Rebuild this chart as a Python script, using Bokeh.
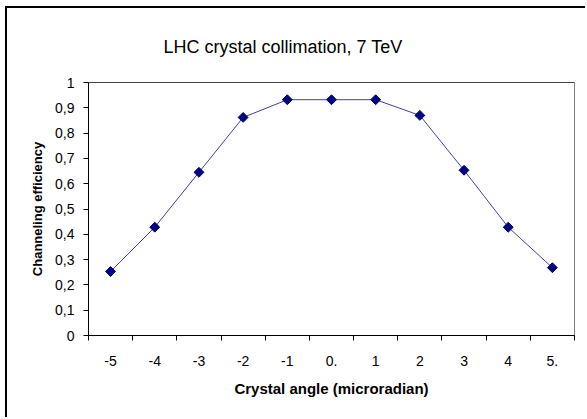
import math
from bokeh.plotting import figure
from bokeh.models import FixedTicker, Span, Range1d
from bokeh.embed import file_html
from bokeh.resources import INLINE

# Data
angles = [-5, -4, -3, -2, -1, 0, 1, 2, 3, 4, 5]
angle_labels = ["-5", "-4", "-3", "-2", "-1", "0.", "1", "2", "3", "4", "5."]
efficiency = [0.253, 0.428, 0.645, 0.862, 0.932, 0.932, 0.932, 0.870, 0.653, 0.428, 0.268]
y_tick_values = [0.0, 0.1, 0.2, 0.3, 0.4, 0.5, 0.6, 0.7, 0.8, 0.9, 1.0]
y_tick_labels = ["0", "0,1", "0,2", "0,3", "0,4", "0,5", "0,6", "0,7", "0,8", "0,9", "1"]
x_boundaries = [a - 0.5 for a in angles] + [angles[-1] + 0.5]

FONT = "Liberation Sans"

p = figure(width=580, height=411, output_backend="svg", toolbar_location=None,
           x_range=Range1d(angles[0] - 0.5, angles[-1] + 0.5),
           y_range=Range1d(0, 1),
           title="LHC crystal collimation, 7 TeV",
           min_border_left=81, min_border_right=13, min_border_top=74, min_border_bottom=84)
p.styles = {"border-top": "2px solid black", "border-left": "2px solid black",
            "margin-left": "5px", "margin-top": "6px"}

p.title.align = "left"
p.title.offset = 75
p.title.text_font = FONT
p.title.text_font_size = "18px"
p.title.text_font_style = "normal"
p.title.text_color = "black"
p.title.standoff = 52

p.grid.visible = False
p.outline_line_color = "#808080"
p.outline_line_width = 1
p.background_fill_color = "white"
p.border_fill_color = "white"

# X axis
xa = p.xaxis[0]
xa.ticker = FixedTicker(ticks=angles, minor_ticks=x_boundaries)
xa.major_label_overrides = {a: l for a, l in zip(angles, angle_labels)}
xa.major_tick_out = 0
xa.major_tick_in = 0
xa.minor_tick_out = 5
xa.minor_tick_in = 0
xa.minor_tick_line_color = "black"
xa.axis_line_color = "black"
xa.major_label_text_font = FONT
xa.major_label_text_font_size = "14px"
xa.major_label_text_color = "black"
xa.major_label_standoff = 15
xa.axis_label = "Crystal angle (microradian)"
xa.axis_label_text_font = FONT
xa.axis_label_text_font_size = "15px"
xa.axis_label_text_font_style = "bold"
xa.axis_label_text_color = "black"
xa.axis_label_standoff = 11

# Y axis
ya = p.yaxis[0]
ya.ticker = FixedTicker(ticks=y_tick_values, minor_ticks=[])
ya.major_label_overrides = {v: l for v, l in zip(y_tick_values, y_tick_labels)}
ya.major_tick_out = 5
ya.major_tick_in = 0
ya.major_tick_line_color = "black"
ya.axis_line_color = "black"
ya.major_label_text_font = FONT
ya.major_label_text_font_size = "14px"
ya.major_label_text_color = "black"
ya.major_label_standoff = 9
ya.axis_label = "Channeling efficiency"
ya.axis_label_text_font = FONT
ya.axis_label_text_font_size = "13px"
ya.axis_label_text_font_style = "bold"
ya.axis_label_text_color = "black"
ya.axis_label_standoff = 7

p.add_layout(Span(location=1, dimension="width", line_color="black", line_width=1))

p.line(angles, efficiency, line_color="#000080", line_width=1, line_alpha=0.75)
p.scatter(angles, efficiency, marker="square", angle=math.pi / 4, size=7, color="#000080")

open("out.html", "w").write(file_html(p, INLINE))
